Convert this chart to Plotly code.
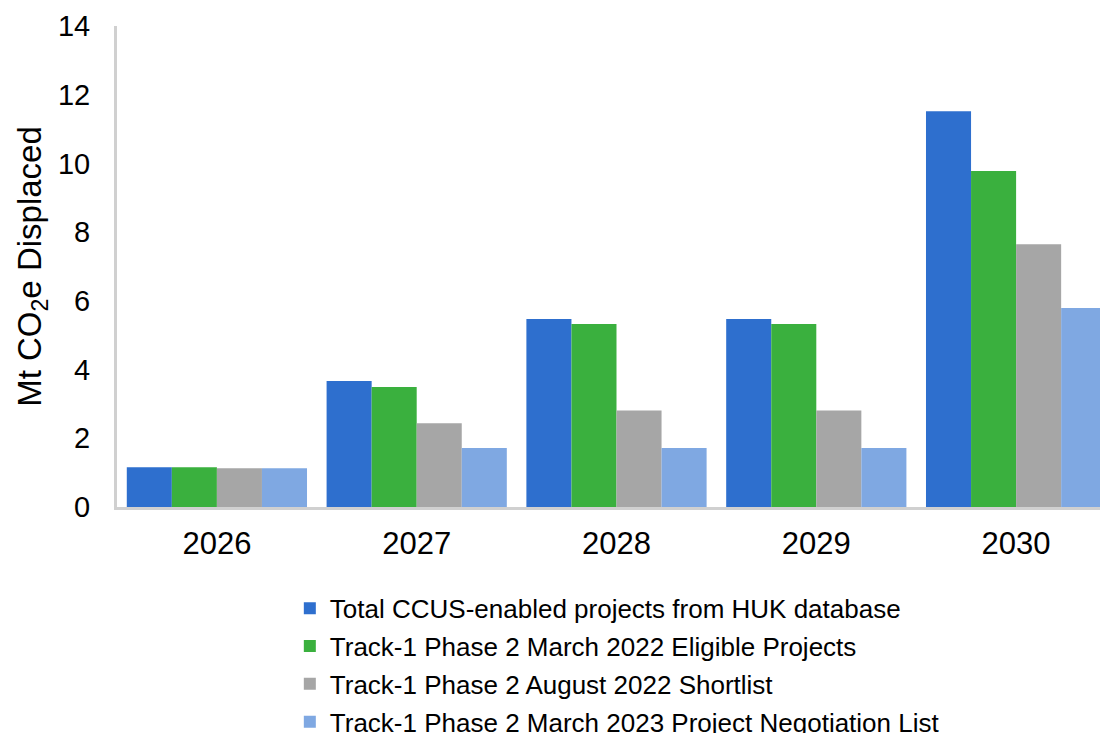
import plotly.graph_objects as go

# values, Mt CO2e displaced per year
years = ["2026", "2027", "2028", "2029", "2030"]
total_huk = [1.16, 3.67, 5.47, 5.47, 11.52]
eligible_mar22 = [1.16, 3.49, 5.33, 5.33, 9.78]
shortlist_aug22 = [1.13, 2.44, 2.81, 2.81, 7.65]
negotiation_mar23 = [1.13, 1.72, 1.72, 1.72, 5.79]

series_names = [
    "Total CCUS-enabled projects from HUK database",
    "Track-1 Phase 2 March 2022 Eligible Projects",
    "Track-1 Phase 2 August 2022 Shortlist",
    "Track-1 Phase 2 March 2023 Project Negotiation List",
]
series_values = [total_huk, eligible_mar22, shortlist_aug22, negotiation_mar23]
colors = ["#2E6FCE", "#3AB03E", "#A6A6A6", "#7FA8E2"]

FONT = "Liberation Sans, Arial, sans-serif"

fig = go.Figure()
for i, (name, vals) in enumerate(zip(series_names, series_values)):
    fig.add_trace(go.Bar(
        x=years, y=vals, name=name, legendgroup=f"g{i}",
        marker=dict(color=colors[i], line=dict(width=0)),
    ))

# page body has an 8px margin, so the plot runs off the right edge like the source
fig.update_layout(
    width=1108, height=733,
    margin=dict(l=109, r=0, t=18, b=234, autoexpand=False),
    paper_bgcolor="white", plot_bgcolor="white",
    font=dict(family=FONT, color="black"),
    barmode="group", bargap=0.098, bargroupgap=0,
    showlegend=True,
    legend=dict(
        orientation="v", traceorder="grouped", tracegroupgap=1,
        x=0.173, xanchor="left", yref="container", y=0.213, yanchor="top",
        font=dict(size=26, family=FONT), itemwidth=30,
        bgcolor="rgba(0,0,0,0)",
    ),
)
fig.update_xaxes(
    type="category", range=[-0.5, 4.5], automargin=False,
    showline=True, linecolor="#D0D0D0", linewidth=3,
    showgrid=False, zeroline=False, ticks="",
    tickfont=dict(size=31, family=FONT), ticklabelstandoff=7,
)
fig.update_yaxes(
    range=[0, 14], dtick=2, automargin=False,
    showline=True, linecolor="#D0D0D0", linewidth=3,
    showgrid=False, zeroline=False, ticks="",
    tickfont=dict(size=29, family=FONT), ticklabelstandoff=18,
    title=dict(text="Mt CO<sub>2</sub>e Displaced", font=dict(size=33, family=FONT), standoff=7),
)

fig.write_html("out.html")
